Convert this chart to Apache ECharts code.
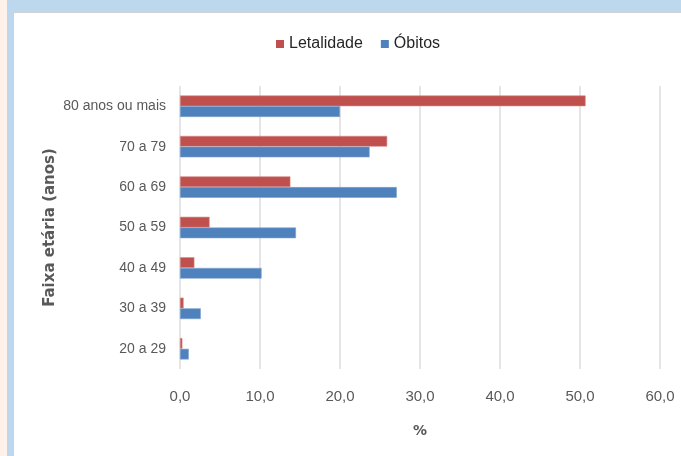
<!DOCTYPE html>
<html>
<head>
<meta charset="utf-8">
<script src="https://cdn.jsdelivr.net/npm/echarts@6/dist/echarts.min.js"></script>
<style>
  html, body {
    margin: 0;
    padding: 0;
    width: 681px;
    height: 456px;
    overflow: hidden;
    background: #fdf1ea;
  }
  .frame-blue {
    position: absolute;
    left: 7px;
    top: 0;
    width: 674px;
    height: 456px;
    background: #bdd7ee;
  }
  .panel {
    position: absolute;
    left: 13px;
    top: 12px;
    width: 668px;
    height: 444px;
    background: #ffffff;
    border-left: 1px solid #d0d0d0;
    border-top: 1px solid #d0d0d0;
  }
  #chart {
    position: absolute;
    left: 0;
    top: 0;
    width: 681px;
    height: 456px;
  }
</style>
</head>
<body>
<div class="frame-blue"></div>
<div class="panel"></div>
<div id="chart"></div>
<script>
// faixas etárias (de baixo para cima)
const categories = ['20 a 29', '30 a 39', '40 a 49', '50 a 59', '60 a 69', '70 a 79', '80 anos ou mais']
const letalidade = [0.3, 0.45, 1.8, 3.7, 13.8, 25.9, 50.7]
const obitos = [1.1, 2.6, 10.2, 14.5, 27.1, 23.7, 20.0]
const xTicks = [0, 10, 20, 30, 40, 50, 60]

const labelFont = "'Liberation Sans', Arial, sans-serif"

const chart = echarts.init(document.getElementById('chart'))
let option = {
  backgroundColor: 'transparent',
  animation: false,
  legend: {
    data: ['Letalidade', 'Óbitos'],
    top: 36,
    left: 276,
    padding: 0,
    itemWidth: 8,
    itemHeight: 8,
    itemGap: 18,
    icon: 'rect',
    itemStyle: {borderWidth: 0},
    textStyle: {
      fontFamily: labelFont,
      fontSize: 16,
      color: '#262626'
    }
  },
  grid: {
    left: 180,
    right: 21,
    top: 86,
    bottom: 87
  },
  xAxis: {
    type: 'value',
    min: xTicks[0],
    max: xTicks[xTicks.length - 1],
    interval: 10,
    name: '%',
    nameLocation: 'middle',
    nameGap: 55,
    nameTextStyle: {
      fontFamily: "'DejaVu Sans', sans-serif",
      fontWeight: 'bold',
      fontSize: 14,
      color: '#595959'
    },
    axisLine: {show: false},
    axisTick: {show: false},
    axisLabel: {
      margin: 20,
      fontFamily: labelFont,
      fontSize: 15,
      color: '#595959',
      formatter: v => v.toFixed(1).replace('.', ',')
    },
    splitLine: {
      lineStyle: {color: '#dcdcdc', width: 1.5}
    }
  },
  yAxis: {
    type: 'category',
    data: categories,
    name: 'Faixa etária (anos)',
    nameLocation: 'middle',
    nameGap: 122,
    nameMoveOverlap: false,
    nameTextStyle: {
      fontFamily: "'DejaVu Sans', sans-serif",
      fontWeight: 'bold',
      fontSize: 15,
      color: '#595959'
    },
    axisLine: {show: false},
    axisTick: {show: false},
    axisLabel: {
      margin: 14,
      fontFamily: labelFont,
      fontSize: 14,
      color: '#595959'
    }
  },
  series: [
    {
      name: 'Letalidade',
      type: 'bar',
      data: letalidade,
      barGap: 0,
      barCategoryGap: '47%',
      itemStyle: {color: '#c0504d', borderColor: '#d48a88', borderWidth: 0.6}
    },
    {
      name: 'Óbitos',
      type: 'bar',
      data: obitos,
      barGap: 0,
      barCategoryGap: '47%',
      itemStyle: {color: '#4f81bd', borderColor: '#7fa3d0', borderWidth: 0.6}
    }
  ]
}
chart.setOption(option)
</script>
</body>
</html>
